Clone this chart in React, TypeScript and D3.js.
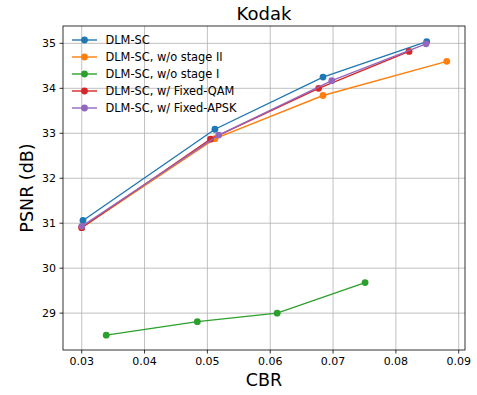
import React from "react";
import * as d3 from "d3";

const seriesNames = [
  "DLM-SC",
  "DLM-SC, w/o stage II",
  "DLM-SC, w/o stage I",
  "DLM-SC, w/ Fixed-QAM",
  "DLM-SC, w/ Fixed-APSK",
];
const colors = ["#1f77b4", "#ff7f0e", "#2ca02c", "#d62728", "#9467bd"];

const cbrFull = [0.0302, 0.0512, 0.0684, 0.0849];
const psnrFull = [31.06, 33.09, 34.25, 35.04];
const cbrNoStage2 = [0.03, 0.0512, 0.0684, 0.0881];
const psnrNoStage2 = [30.9, 32.88, 33.84, 34.6];
const cbrNoStage1 = [0.0339, 0.0484, 0.0611, 0.0751];
const psnrNoStage1 = [28.51, 28.81, 29.0, 29.68];
const cbrQam = [0.03, 0.0505, 0.0677, 0.0821];
const psnrQam = [30.9, 32.87, 34.0, 34.82];
const cbrApsk = [0.03, 0.0518, 0.0698, 0.0848];
const psnrApsk = [30.93, 32.96, 34.17, 34.99];

const xTicks = [0.03, 0.04, 0.05, 0.06, 0.07, 0.08, 0.09];
const yTicks = [29, 30, 31, 32, 33, 34, 35];

const allX = [cbrFull, cbrNoStage2, cbrNoStage1, cbrQam, cbrApsk];
const allY = [psnrFull, psnrNoStage2, psnrNoStage1, psnrQam, psnrApsk];

const W = 477;
const H = 395;
const left = 63;
const right = 465;
const top = 26;
const bottom = 350;
const font = "DejaVu Sans, sans-serif";

export default function App() {
  const x = d3.scaleLinear().domain([0.02702, 0.091]).range([left, right]);
  const y = d3.scaleLinear().domain([28.18, 35.386]).range([bottom, top]);
  const line = d3.line<[number, number]>().x((d) => x(d[0])).y((d) => y(d[1]));

  return (
    <svg
      width={W}
      height={H}
      style={{ position: "absolute", left: 0, top: 0, background: "#fff" }}
      fontFamily={font}
    >
      {xTicks.map((t) => (
        <g key={"x" + t}>
          <line x1={x(t)} x2={x(t)} y1={top} y2={bottom} stroke="#b0b0b0" strokeWidth={0.8} />
          <line x1={x(t)} x2={x(t)} y1={bottom} y2={bottom + 3.5} stroke="#000" strokeWidth={0.8} />
          <text x={x(t)} y={365} textAnchor="middle" fontSize={11}>
            {t.toFixed(2)}
          </text>
        </g>
      ))}
      {yTicks.map((t) => (
        <g key={"y" + t}>
          <line x1={left} x2={right} y1={y(t)} y2={y(t)} stroke="#b0b0b0" strokeWidth={0.8} />
          <line x1={left - 3.5} x2={left} y1={y(t)} y2={y(t)} stroke="#000" strokeWidth={0.8} />
          <text x={left - 7} y={y(t)} dy="0.36em" textAnchor="end" fontSize={11}>
            {t}
          </text>
        </g>
      ))}
      {allX.map((xs, i) => {
        const pts = xs.map((v, j) => [v, allY[i][j]] as [number, number]);
        return (
          <g key={seriesNames[i]}>
            <path d={line(pts) || ""} fill="none" stroke={colors[i]} strokeWidth={1.4} />
            {pts.map((p, j) => (
              <circle key={j} cx={x(p[0])} cy={y(p[1])} r={3.4} fill={colors[i]} />
            ))}
          </g>
        );
      })}
      <rect x={left} y={top} width={right - left} height={bottom - top} fill="none" stroke="#000" strokeWidth={0.8} />
      <text x={(left + right) / 2} y={19.5} textAnchor="middle" fontSize={18}>
        Kodak
      </text>
      <text x={(left + right) / 2} y={386} textAnchor="middle" fontSize={17.5}>
        CBR
      </text>
      <text
        transform={`translate(33,${(top + bottom) / 2}) rotate(-90)`}
        textAnchor="middle"
        fontSize={17.5}
      >
        PSNR (dB)
      </text>
      {seriesNames.map((n, i) => {
        const ly = 40 + i * 17;
        return (
          <g key={"l" + n}>
            <line x1={72} x2={97} y1={ly} y2={ly} stroke={colors[i]} strokeWidth={1.4} />
            <circle cx={84.5} cy={ly} r={3.4} fill={colors[i]} />
            <text x={105.5} y={ly} dy="0.36em" fontSize={11.4}>
              {n}
            </text>
          </g>
        );
      })}
    </svg>
  );
}
